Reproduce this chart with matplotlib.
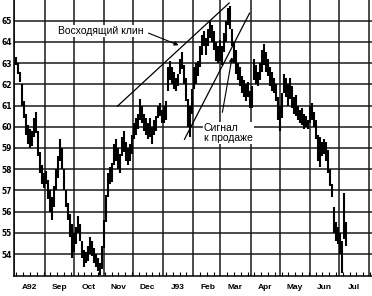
import matplotlib.pyplot as plt
import matplotlib.dates as mdates
import pandas as pd

# daily-ish price bars (high / low)
highs = [
    63.3, 63.0, 62.6, 62.0, 61.2, 60.6, 60.1, 59.9, 59.8, 60.4,
    60.7, 59.8, 58.8, 58.2, 57.8, 57.9, 57.5, 57.0, 56.7, 57.2,
    58.0, 58.6, 59.4, 59.0, 58.0, 57.0, 56.4, 55.9, 55.4, 55.0,
    55.3, 55.8, 55.4, 54.6, 54.2, 54.1, 54.4, 54.8, 54.6, 54.3,
    54.0, 53.8, 53.6, 54.4, 55.6, 56.8, 57.8, 58.1, 58.3, 59.2,
    59.4, 59.0, 58.7, 59.5, 59.8, 59.3, 59.0, 59.2, 59.6, 60.2,
    60.4, 60.6, 61.3, 61.0, 60.6, 60.4, 60.2, 60.4, 60.0, 60.3,
    60.5, 61.0, 61.1, 60.8, 61.0, 61.2, 62.8, 63.1, 62.8, 62.6,
    62.3, 62.5, 63.2, 63.5, 62.9, 62.3, 61.3, 61.0, 61.8, 62.8,
    63.0, 63.1, 63.8, 64.3, 64.5, 64.2, 64.6, 65.0, 64.8, 64.5,
    64.0, 63.8, 64.1, 63.8, 64.4, 65.0, 65.6, 65.7, 64.6, 64.0,
    63.6, 63.0, 62.8, 62.4, 62.2, 62.0, 62.1, 61.7, 61.9, 63.2,
    62.9, 62.6, 63.0, 63.6, 63.9, 63.5, 63.2, 62.8, 62.6, 62.3,
    62.0, 61.4, 61.0, 61.6, 62.5, 62.3, 62.0, 62.3, 61.9, 61.4,
    61.5, 61.0, 60.8, 60.9, 60.6, 60.5, 60.3, 61.0, 61.1, 60.7,
    60.3, 59.6, 59.5, 59.3, 59.4, 59.3, 58.9, 58.0, 57.3, 56.2,
    55.5, 55.3, 55.0, 54.6, 56.9, 55.5,
]
lows = [
    62.9, 62.5, 62.1, 61.0, 60.4, 59.6, 59.2, 59.0, 59.1, 59.5,
    59.7, 58.6, 57.8, 57.3, 57.1, 57.3, 56.6, 56.0, 55.6, 56.2,
    57.0, 57.6, 58.4, 58.0, 57.0, 56.2, 55.6, 54.8, 53.8, 54.1,
    54.5, 55.0, 54.6, 53.8, 53.4, 53.6, 53.7, 54.0, 53.9, 53.6,
    53.4, 53.2, 53.0, 53.3, 54.3, 55.5, 56.7, 57.3, 57.4, 58.2,
    58.4, 58.0, 57.8, 58.6, 58.8, 58.4, 58.2, 58.4, 58.7, 59.4,
    59.6, 59.9, 60.3, 60.2, 59.8, 59.6, 59.4, 59.5, 59.2, 59.6,
    59.8, 60.4, 60.5, 60.2, 60.2, 60.3, 61.7, 62.2, 62.0, 61.8,
    61.7, 61.9, 62.5, 62.7, 62.0, 61.2, 60.0, 59.5, 60.6, 61.8,
    62.0, 62.4, 62.8, 63.4, 63.8, 63.4, 63.8, 64.2, 64.0, 63.6,
    63.1, 63.0, 63.1, 62.9, 63.5, 64.0, 64.8, 64.6, 63.8, 63.0,
    62.5, 62.2, 61.9, 61.6, 61.4, 61.2, 61.4, 60.9, 60.9, 62.2,
    62.0, 61.9, 62.2, 62.6, 62.9, 62.6, 62.4, 61.9, 61.7, 61.6,
    61.2, 60.3, 59.8, 60.4, 61.6, 61.4, 61.0, 61.3, 60.9, 60.6,
    60.5, 60.3, 60.2, 60.1, 59.9, 60.0, 59.9, 60.2, 60.3, 60.0,
    59.4, 58.4, 58.1, 58.6, 58.7, 58.4, 57.8, 57.2, 56.7, 55.0,
    54.6, 54.5, 54.0, 53.1, 54.7, 54.4,
]
dates = pd.date_range("1992-08-03", "1993-07-08", periods=len(highs))

month_starts = pd.date_range("1992-08-01", "1993-08-01", freq="MS")
month_labels = ["A92", "Sep", "Oct", "Nov", "Dec", "J93",
                "Feb", "Mar", "Apr", "May", "Jun", "Jul"]
price_ticks = list(range(54, 66))

# wedge lines and arrows (date, price)
upper_wedge = (["1992-11-15", "1993-03-10"], [60.97, 65.83])
lower_wedge = (["1993-01-23", "1993-03-31"], [59.41, 65.35])
wedge_arrow = (["1992-12-17", "1993-01-17"], [64.41, 63.84])
signal_arrow = (["1993-03-03", "1993-03-13"], [60.68, 63.28])

fig = plt.figure(figsize=(3.72, 2.96), dpi=100)
ax = fig.add_axes([13.5 / 372, 20 / 296, 358.5 / 372, 276 / 296])

ax.vlines(dates, lows, highs, color="black", linewidth=1.5)

ax.set_xlim(pd.Timestamp("1992-07-31"), pd.Timestamp("1993-08-04"))
ax.set_ylim(52.97, 65.97)

ax.set_xticks(month_starts)
ax.xaxis.set_minor_locator(mdates.WeekdayLocator(byweekday=mdates.MO))
ax.tick_params(axis="x", which="major", length=0, labelbottom=False)
ax.tick_params(axis="x", which="minor", direction="in", length=3, width=0.8)
ax.set_yticks(price_ticks)
ax.set_yticklabels([str(p) for p in price_ticks], fontsize=5.5, fontweight="bold")
ax.tick_params(axis="y", length=0, pad=1.2)

ax.set_axisbelow(True)
ax.grid(True, which="major", color="#1a1a1a", linewidth=1.1)
for side in ("top", "right"):
    ax.spines[side].set_visible(False)
for side in ("left", "bottom"):
    ax.spines[side].set_linewidth(1.1)

mids = month_starts[:-1] + pd.Timedelta(days=15)
for m, lab in zip(mids, month_labels):
    ax.text(m, -0.04, lab, transform=ax.get_xaxis_transform(), ha="center",
            va="center", fontsize=6, fontweight="bold", family="Liberation Sans")

for d, p in (upper_wedge, lower_wedge):
    ax.plot(pd.to_datetime(d), p, color="black", linewidth=0.9)

for d, p in (wedge_arrow, signal_arrow):
    d = mdates.date2num(pd.to_datetime(d))
    ax.annotate("", xy=(d[1], p[1]), xytext=(d[0], p[0]),
                arrowprops=dict(arrowstyle="-|>", color="black", lw=0.8,
                                mutation_scale=6, shrinkA=0, shrinkB=0))

box = dict(facecolor="white", edgecolor="none", pad=0.6)
ax.text(pd.Timestamp("1992-10-29"), 64.5, "Восходящий клин", ha="center",
        va="center", fontsize=7.5, family="Liberation Sans", bbox=box)
ax.text(pd.Timestamp("1993-02-12"), 59.69, "Сигнал\nк продаже", ha="left",
        va="center", fontsize=7.5, family="Liberation Sans", bbox=box,
        linespacing=1.0)

fig.savefig("out.png", dpi=100)
